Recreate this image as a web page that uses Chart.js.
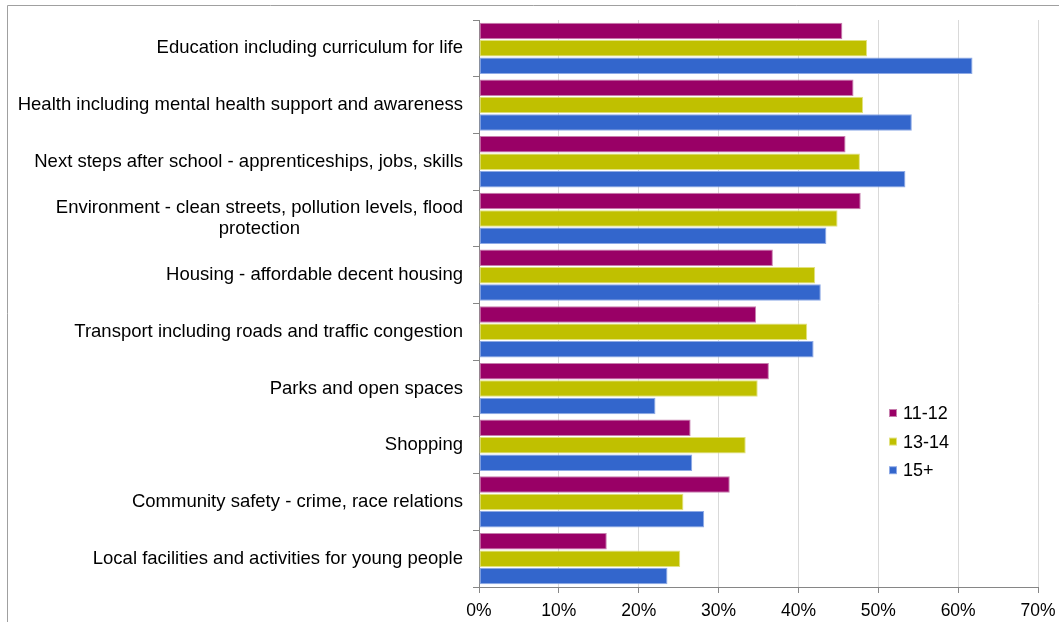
<!DOCTYPE html>
<html>
<head>
<meta charset="utf-8">
<title>Priorities by age group</title>
<script src="https://cdn.jsdelivr.net/npm/chart.js@4.4.1/dist/chart.umd.min.js"></script>
<style>
  html, body { margin: 0; padding: 0; background: #ffffff; }
  canvas { display: block; }
</style>
</head>
<body>
<canvas id="canvasGrafico" width="1059" height="622"></canvas>
<script>
const temas = [
  'Education including curriculum for life',
  'Health including mental health support and awareness',
  'Next steps after school - apprenticeships, jobs, skills',
  ['Environment - clean streets, pollution levels, flood', 'protection'],
  'Housing - affordable decent housing',
  'Transport including roads and traffic congestion',
  'Parks and open spaces',
  'Shopping',
  'Community safety - crime, race relations',
  'Local facilities and activities for young people'
];

const idades = ['11-12', '13-14', '15+'];

// percentages per age group, same order as temas
const grupo11a12 = [45.5, 46.9, 45.9, 47.8, 36.8, 34.7, 36.3, 26.5, 31.4, 16.0];
const grupo13a14 = [48.6, 48.1, 47.7, 44.9, 42.1, 41.1, 34.9, 33.4, 25.6, 25.2];
const grupo15mais = [61.8, 54.2, 53.4, 43.5, 42.8, 41.9, 22.1, 26.7, 28.2, 23.6];

const ticksX = [0, 10, 20, 30, 40, 50, 60, 70];

const familia = '"Liberation Sans", Arial, sans-serif';
const corEixo = '#868686';

// outer frame of the chart (top and left edges)
const moldura = {
  id: 'moldura',
  beforeDraw(chart) {
    const ctx = chart.ctx;
    ctx.save();
    ctx.strokeStyle = '#a0a0a0';
    ctx.lineWidth = 1;
    ctx.beginPath();
    ctx.moveTo(7.5, chart.height);
    ctx.lineTo(7.5, 5.5);
    ctx.lineTo(chart.width, 5.5);
    ctx.stroke();
    ctx.restore();
  }
};

// category labels: block right-aligned, lines centred inside the block
const rotulosY = {
  id: 'rotulosY',
  afterDraw(chart) {
    const ctx = chart.ctx;
    const escala = chart.scales.y;
    const direita = chart.chartArea.left - 16;
    const alturaLinha = 20.5;
    ctx.save();
    ctx.font = '18.5px ' + familia;
    ctx.fillStyle = '#000000';
    ctx.textAlign = 'center';
    ctx.textBaseline = 'middle';
    chart.data.labels.forEach(function (rotulo, i) {
      const linhas = Array.isArray(rotulo) ? rotulo : [rotulo];
      let largura = 0;
      linhas.forEach(function (l) { largura = Math.max(largura, ctx.measureText(l).width); });
      const cx = direita - largura / 2;
      const yc = escala.getPixelForValue(i);
      const y0 = yc - (linhas.length - 1) * alturaLinha / 2;
      linhas.forEach(function (l, k) {
        ctx.fillText(l, cx, y0 + k * alturaLinha);
      });
    });
    ctx.restore();
  }
};

// legend inside the plot, right side
const legenda = {
  id: 'legenda',
  afterDraw(chart) {
    const ctx = chart.ctx;
    const x = 889;
    const y = 413;
    const passo = 28.6;
    ctx.save();
    ctx.font = '18px ' + familia;
    ctx.textBaseline = 'middle';
    ctx.textAlign = 'left';
    chart.data.datasets.forEach(function (ds, i) {
      const yy = y + i * passo;
      ctx.fillStyle = ds.borderColor;
      ctx.fillRect(x, yy - 4, 8, 8);
      ctx.fillStyle = ds.backgroundColor;
      ctx.fillRect(x + 1, yy - 3, 6, 6);
      ctx.fillStyle = '#000000';
      ctx.fillText(ds.label, x + 14, yy + 1);
    });
    ctx.restore();
  }
};

const data = {
  labels: temas,
  datasets: [{
    label: idades[0],
    data: grupo11a12,
    backgroundColor: '#990066',
    borderColor: '#c77fae'
  }, {
    label: idades[1],
    data: grupo13a14,
    backgroundColor: '#c0c000',
    borderColor: '#e2e27f'
  }, {
    label: idades[2],
    data: grupo15mais,
    backgroundColor: '#3366cc',
    borderColor: '#8eaae6'
  }]
};

data.datasets.forEach(function (ds) {
  ds.borderWidth = 1;
  ds.borderSkipped = false;
  ds.categoryPercentage = 0.92;
  ds.barPercentage = 0.95;
});

const config = {
  type: 'bar',
  data: data,
  options: {
    indexAxis: 'y',
    responsive: false,
    animation: false,
    devicePixelRatio: 1,
    layout: {
      padding: { top: 20, right: 21, left: 0, bottom: 0 }
    },
    plugins: {
      legend: { display: false },
      tooltip: { enabled: false }
    },
    scales: {
      x: {
        min: 0,
        max: 70,
        afterBuildTicks(scale) {
          scale.ticks = ticksX.map(function (v) { return { value: v }; });
        },
        afterFit(scale) {
          // keep the plot edges fixed, the end labels may overhang
          scale.height = 35;
          scale.paddingLeft = 0;
          scale.paddingRight = 0;
        },
        ticks: {
          callback: function (v) { return v + '%'; },
          font: { family: familia, size: 17.5 },
          color: '#000000',
          padding: 8,
          maxRotation: 0
        },
        grid: {
          color: '#d9d9d9',
          tickColor: corEixo,
          tickLength: 6,
          lineWidth: 1
        },
        border: { color: corEixo, width: 1 }
      },
      y: {
        type: 'category',
        offset: true,
        afterFit(scale) {
          scale.width = 479;
        },
        ticks: { display: false },
        grid: {
          offset: true,
          drawOnChartArea: false,
          tickColor: corEixo,
          tickLength: 6
        },
        border: { color: corEixo, width: 1 }
      }
    }
  },
  plugins: [moldura, rotulosY, legenda]
};

const graficoDash = new Chart(
  document.getElementById('canvasGrafico'),
  config
);
</script>
</body>
</html>
